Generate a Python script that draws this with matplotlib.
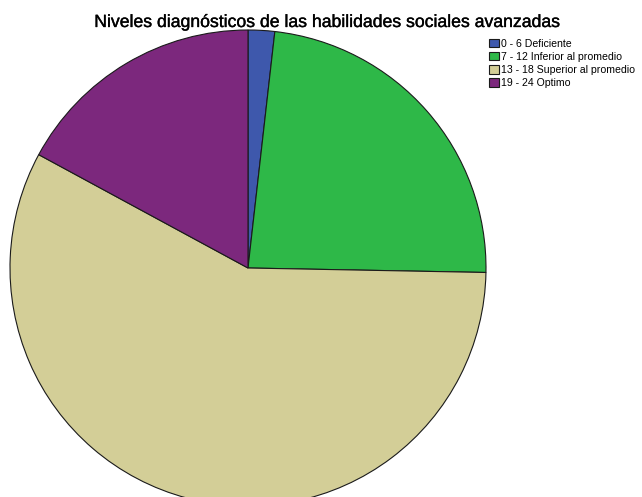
import matplotlib
matplotlib.use('Agg')
import matplotlib.pyplot as plt
import matplotlib.patheffects as pe

# Share of students per diagnostic level (%)
labels = ['0 - 6 Deficiente', '7 - 12 Inferior al promedio',
          '13 - 18 Superior al promedio', '19 - 24 Optimo']
percent = [1.8, 23.5, 57.6, 17.1]
colors = ['#3E58AC', '#2EB848', '#D3CE97', '#7C287D']

plt.rcParams['font.family'] = ['Liberation Sans', 'DejaVu Sans']

fig = plt.figure(figsize=(6.42, 4.97), dpi=100)
# pie slightly larger than the canvas at the bottom
ax = fig.add_axes([10 / 642, (497 - 268 - 238) / 497, 476 / 642, 476 / 497])
wedges, _ = ax.pie(percent, colors=colors, startangle=90, counterclock=False,
                   radius=1, wedgeprops=dict(edgecolor='#1a1a1a', linewidth=0.8))
ax.set_xlim(-1, 1)
ax.set_ylim(-1, 1)
ax.axis('off')

fig.text(327 / 642, 1 - 27 / 497, 'Niveles diagnósticos de las habilidades sociales avanzadas',
         ha='center', va='baseline', fontsize=12.7,
         path_effects=[pe.withStroke(linewidth=0.25, foreground='black')])

fig.legend(wedges, labels, loc='upper left', bbox_to_anchor=(489 / 642, 1 - 38.5 / 497),
           frameon=False, fontsize=7.6, handlelength=0.9, handleheight=0.9,
           handletextpad=0.2, labelspacing=0.3, borderpad=0, borderaxespad=0)

fig.savefig('out.png', dpi=100)
